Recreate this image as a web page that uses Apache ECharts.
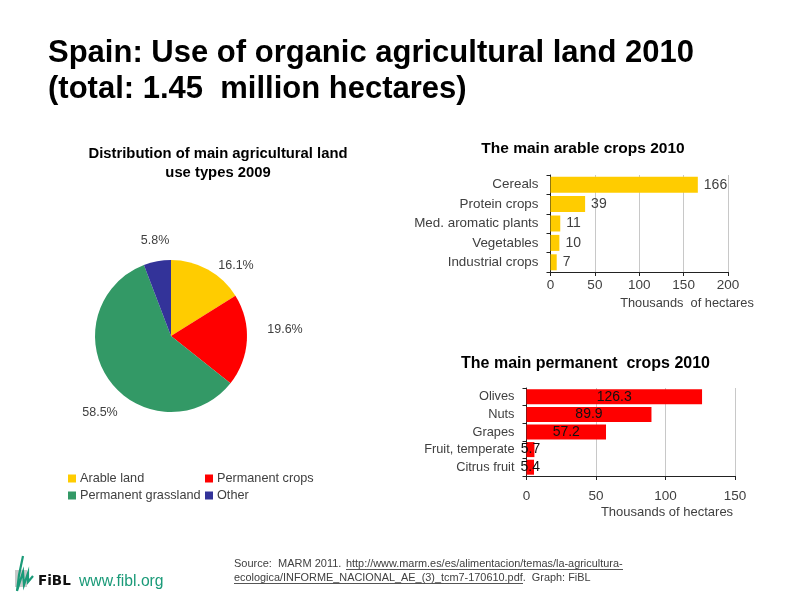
<!DOCTYPE html>
<html>
<head>
<meta charset="utf-8">
<style>
html,body{margin:0;padding:0;background:#fff;}
#main{width:800px;height:600px;}
</style>
<script src="https://cdn.jsdelivr.net/npm/echarts@6/dist/echarts.min.js"></script>
</head>
<body>
<div id="main"></div>
<script>
var pieNames=["Arable land","Permanent crops","Permanent grassland","Other"];
var pieValues=[16.1,19.6,58.5,5.8];
var pieColors=["#ffcc00","#ff0000","#339966","#333399"];
var arableCats=["Cereals","Protein crops","Med. aromatic plants","Vegetables","Industrial crops"];
var arableVals=[166,39,11,10,7];
var permCats=["Olives","Nuts","Grapes","Fruit, temperate","Citrus fruit"];
var permVals=[126.3,89.9,57.2,5.7,5.4];

var font="Liberation Sans";
var grey="#404040";
var green="#1a9a78";
//饼图标签位置
var pieLabelPos=[[236,266],[285,330],[100,413],[155,241]];
var myChart=echarts.init(document.getElementById("main"));

function heading(text,x,y,size,align,lh){
	return {text:text,left:x,top:y,padding:0,textAlign:align||"center",
		textStyle:{fontFamily:font,fontSize:size,fontWeight:"bold",color:"#000",lineHeight:lh||size+5}};
}
function axisTitle(text,x,y,size){
	return {text:text,left:x,top:y,padding:0,textAlign:"center",
		textStyle:{fontFamily:font,fontSize:size,fontWeight:"normal",color:grey}};
}
function catAxis(idx,cats,size,margin){
	return {type:"category",gridIndex:idx,inverse:true,data:cats,
		axisLine:{show:true,lineStyle:{color:"#222",width:1}},
		axisTick:{show:true,length:4,alignWithLabel:false,lineStyle:{color:"#222"}},
		axisLabel:{interval:0,color:grey,fontFamily:font,fontSize:size,margin:margin},
		splitLine:{show:false}};
}
function valAxis(idx,max,step,margin){
	return {type:"value",gridIndex:idx,min:0,max:max,interval:step,
		axisLine:{show:true,lineStyle:{color:"#222",width:1}},
		axisTick:{show:true,length:4,lineStyle:{color:"#222"}},
		axisLabel:{color:grey,fontFamily:font,fontSize:13.5,margin:margin},
		splitLine:{show:true,lineStyle:{color:"#c8c8c8",width:1}}};
}
function legendCol(x,names){
	return {left:x,top:472,padding:0,orient:"vertical",itemWidth:8,itemHeight:8,itemGap:4,icon:"rect",
		textStyle:{fontFamily:font,fontSize:12.7,color:grey,padding:[0,0,0,-1]},
		data:names};
}

var option={
	backgroundColor:"#fff",
	animation:false,
	title:[
		heading("Spain: Use of organic agricultural land 2010\n(total: 1.45  million hectares)",48,35,31,"left",36),
		heading("Distribution of main agricultural land\nuse types 2009",218,144,14.8,"center",19),
		heading("The main arable crops 2010",583,138,15.5),
		heading("The main permanent  crops 2010",585.5,353,16),
		axisTitle("Thousands  of hectares",687,297,12.8),
		axisTitle("Thousands of hectares",667,506,13)
	],
	legend:[
		legendCol(68,[pieNames[0],pieNames[2]]),
		legendCol(205,[pieNames[1],pieNames[3]])
	],
	grid:[
		{left:550.5,top:175,width:177.5,height:97},
		{left:526.5,top:388,width:208.5,height:88}
	],
	xAxis:[valAxis(0,200,50,6),valAxis(1,150,50,13)],
	yAxis:[catAxis(0,arableCats,13.4,12),catAxis(1,permCats,12.8,12)],
	series:[
		{type:"pie",center:[171,336],radius:76,startAngle:90,clockwise:true,
			color:pieColors,
			label:{show:true,position:"outside",formatter:"{c}%",color:grey,fontFamily:font,fontSize:12.5},
			labelLine:{show:false},
			labelLayout:function(params){
				var p=pieLabelPos[params.dataIndex];
				return {x:p[0],y:p[1],align:"center",verticalAlign:"middle"};
			},
			emphasis:{disabled:true},
			data:pieNames.map(function(n,i){return {name:n,value:pieValues[i]};})},
		{type:"bar",xAxisIndex:0,yAxisIndex:0,data:arableVals,barWidth:16,
			itemStyle:{color:"#ffcc00"},
			label:{show:true,position:"right",distance:6,color:grey,fontFamily:font,fontSize:14}},
		{type:"bar",xAxisIndex:1,yAxisIndex:1,data:permVals,barWidth:15,
			itemStyle:{color:"#ff0000"},
			label:{show:true,position:"inside",color:"#111",fontFamily:font,fontSize:14}}
	],
	graphic:[
		// source note
		{type:"text",x:234,y:558,style:{text:"Source:  MARM 2011.",font:"11px "+font,fill:grey}},
		{type:"text",x:346,y:558,style:{text:"http://www.marm.es/es/alimentacion/temas/la-agricultura-",font:"10.9px "+font,fill:grey}},
		{type:"text",x:234,y:572,style:{text:"ecologica/INFORME_NACIONAL_AE_(3)_tcm7-170610.pdf.  Graph: FiBL",font:"10.9px "+font,fill:grey}},
		{type:"line",shape:{x1:346,y1:569.5,x2:623,y2:569.5},style:{stroke:"#555",lineWidth:1}},
		{type:"line",shape:{x1:234,y1:583.5,x2:523,y2:583.5},style:{stroke:"#555",lineWidth:1}},
		// FiBL logo
		{type:"rect",shape:{x:15,y:570,width:12,height:17},style:{fill:"#c8c8c8"}},
		{type:"polyline",shape:{points:[[23,556],[19,575],[17,591],[23,572],[24,585],[28,573],[28,582],[33,576]]},
			style:{stroke:green,fill:null,lineWidth:2.2}},
		{type:"text",x:38,y:574,style:{text:"FiBL",font:"bold 13.5px 'DejaVu Sans'",fill:"#111"}},
		{type:"text",x:79,y:574,style:{text:"www.fibl.org",font:"15.7px "+font,fill:green}}
	]
};
myChart.setOption(option);
</script>
</body>
</html>
